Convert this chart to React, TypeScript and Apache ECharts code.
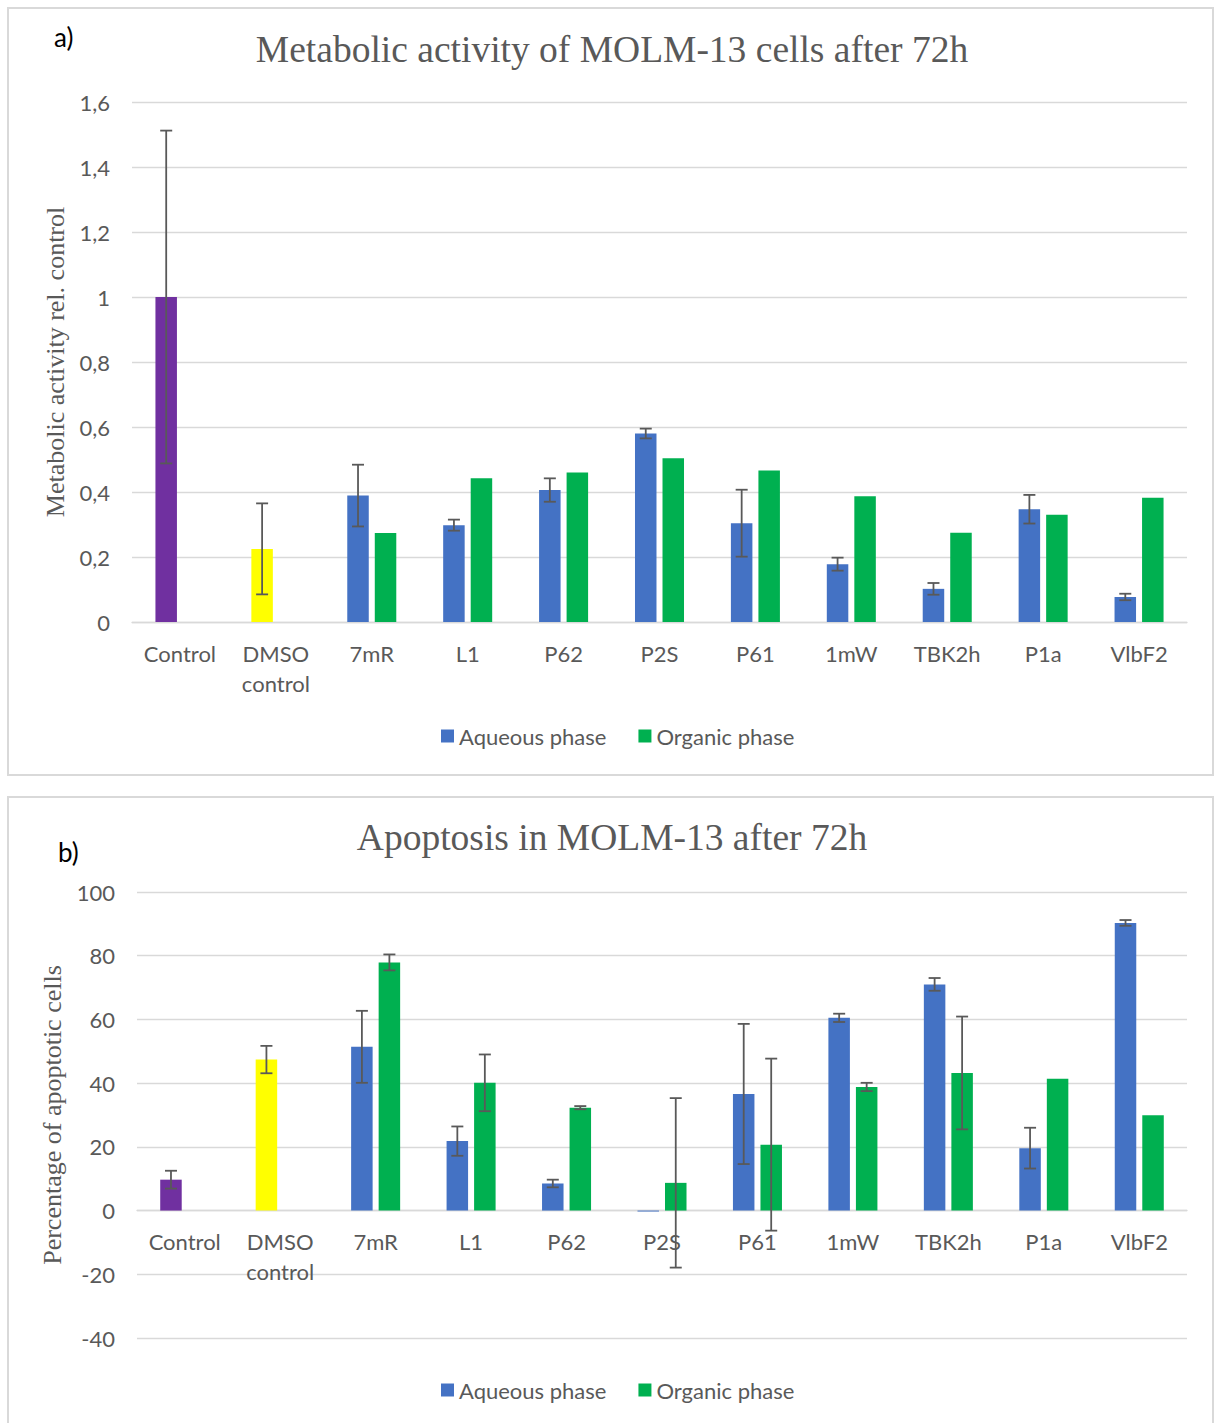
import React, { useEffect, useRef } from "react";
import * as echarts from "echarts";

// Treatment groups shared by both panels
const categories = ["Control", "DMSO\ncontrol", "7mR", "L1", "P62", "P2S", "P61", "1mW", "TBK2h", "P1a", "VlbF2"];

// Panel a: metabolic activity relative to control (first two entries are the control groups)
const metabAqueous = [1.0, 0.225, 0.389, 0.298, 0.406, 0.58, 0.304, 0.178, 0.102, 0.347, 0.077];
const metabAqueousErr = [0.512, 0.14, 0.095, 0.017, 0.036, 0.015, 0.103, 0.02, 0.018, 0.044, 0.01];
const metabOrganic = [null, null, 0.274, 0.442, 0.46, 0.504, 0.466, 0.387, 0.275, 0.33, 0.382];
const metabOrganicErr = [null, null, null, null, null, null, null, null, null, null, null];

// Panel b: percentage of apoptotic cells
const apopAqueous = [9.7, 47.4, 51.4, 21.8, 8.5, -0.3, 36.6, 60.5, 71.0, 19.6, 90.3];
const apopAqueousErr = [2.8, 4.3, 11.3, 4.6, 1.2, null, 22.0, 1.3, 2.0, 6.4, 0.9];
const apopOrganic = [null, null, 77.9, 40.1, 32.3, 8.7, 20.7, 38.8, 43.2, 41.4, 29.9];
const apopOrganicErr = [null, null, 2.5, 8.9, 0.5, 26.6, 27.0, 1.3, 17.7, null, null];

const seriesNames = ["Aqueous phase", "Organic phase"];
const controlColors = ["#7030A0", "#FFFF00"];

const BLUE = "#4472C4";
const GREEN = "#00B050";
const GRID_LINE = "#D9D9D9";
const TEXT = "#595959";
const SANS = "Lato";
const SERIF = "Liberation Serif";
const BAR_W = 21.5;
const BAR_GAP = 6;
const SLOT = (BAR_W + BAR_GAP) / 2;

const toBarData = (vals: (number | null)[], lead: boolean) =>
  vals.map((v, i) => {
    if (v === null) return "-";
    if (lead && i < controlColors.length) return { value: v, itemStyle: { color: controlColors[i] } };
    return v;
  });

const toErrData = (vals: (number | null)[], errs: (number | null)[]) =>
  vals
    .map((v, i) => (v === null || errs[i] === null ? null : [i, v, errs[i]]))
    .filter((d) => d !== null);

const errorRenderer = (offset: number) => (params: any, api: any) => {
  const cat = api.value(0);
  const v = api.value(1);
  const e = api.value(2);
  const hi = api.coord([cat, v + e]);
  const lo = api.coord([cat, v - e]);
  const x = hi[0] + offset;
  const cap = 6;
  const style = { stroke: TEXT, lineWidth: 1.8 };
  return {
    type: "group",
    children: [
      { type: "line", shape: { x1: x, y1: hi[1], x2: x, y2: lo[1] }, style },
      { type: "line", shape: { x1: x - cap, y1: hi[1], x2: x + cap, y2: hi[1] }, style },
      { type: "line", shape: { x1: x - cap, y1: lo[1], x2: x + cap, y2: lo[1] }, style },
    ],
  };
};

const commaFormat = (v: number) => String(Math.round(v * 10) / 10).replace(".", ",");

// Panel b's value axis runs from -40 to 100; the category axis sits on its zero line
const APOP_MIN = -40;
const APOP_MAX = 100;
const APOP_GRID_H = 446;

export default function App() {
  const ref = useRef<HTMLDivElement>(null);

  useEffect(() => {
    if (!ref.current) return;
    const chart = echarts.init(ref.current, null, { renderer: "svg" });

    const xAxisBase = (gridIndex: number, offset: number) => ({
      type: "category",
      gridIndex,
      data: categories,
      position: "bottom",
      offset,
      axisTick: { show: false },
      axisLine: { show: true, onZero: false, lineStyle: { color: GRID_LINE, width: 1.3 } },
      axisLabel: {
        interval: 0,
        margin: 16,
        color: TEXT,
        fontFamily: SANS,
        fontSize: 22,
        lineHeight: 30,
      },
    });

    const yAxisBase = (gridIndex: number, name: string, nameGap: number) => ({
      type: "value",
      gridIndex,
      name,
      nameLocation: "middle",
      nameGap,
      nameTextStyle: { color: TEXT, fontFamily: SERIF, fontSize: 26 },
      axisLine: { show: false },
      axisTick: { show: false },
      splitLine: { lineStyle: { color: GRID_LINE, width: 1.3 } },
      axisLabel: { color: TEXT, fontFamily: SANS, fontSize: 22, margin: 22 },
    });

    const barSeries = (idx: number, name: string, data: any[], color: string) => ({
      type: "bar",
      name,
      xAxisIndex: idx,
      yAxisIndex: idx,
      data,
      barWidth: BAR_W,
      barGap: `${Math.round((BAR_GAP / BAR_W) * 100)}%`,
      itemStyle: { color },
      z: 2,
    });

    const errSeries = (idx: number, name: string, data: any[], offset: number) => ({
      type: "custom",
      name,
      xAxisIndex: idx,
      yAxisIndex: idx,
      data,
      renderItem: errorRenderer(offset),
      z: 5,
      silent: true,
    });

    const legendBase = (top: number) => ({
      data: seriesNames,
      left: 436,
      top,
      icon: "rect",
      itemWidth: 13,
      itemHeight: 13,
      itemGap: 32,
      textStyle: { color: TEXT, fontFamily: SANS, fontSize: 22 },
    });

    // distance from the bottom of grid b up to its zero line
    const zeroLift = (-APOP_MIN / (APOP_MAX - APOP_MIN)) * APOP_GRID_H;

    chart.setOption({
      animation: false,
      backgroundColor: "#FFFFFF",
      grid: [
        { left: 132, top: 102, width: 1055, height: 520, containLabel: false },
        { left: 137, top: 892, width: 1050, height: APOP_GRID_H, containLabel: false },
      ],
      xAxis: [xAxisBase(0, 0), xAxisBase(1, -zeroLift)],
      yAxis: [
        {
          ...yAxisBase(0, "Metabolic activity rel. control", 62),
          min: 0,
          max: 1.6,
          interval: 0.2,
          axisLabel: { ...yAxisBase(0, "", 0).axisLabel, formatter: commaFormat },
        },
        { ...yAxisBase(1, "Percentage of apoptotic cells", 67), min: APOP_MIN, max: APOP_MAX, interval: 20 },
      ],
      legend: [legendBase(720), legendBase(1374)],
      series: [
        barSeries(0, seriesNames[0], toBarData(metabAqueous, true), BLUE),
        barSeries(0, seriesNames[1], toBarData(metabOrganic, false), GREEN),
        errSeries(0, "metab-aq-err", toErrData(metabAqueous, metabAqueousErr), -SLOT),
        errSeries(0, "metab-org-err", toErrData(metabOrganic, metabOrganicErr), SLOT),
        barSeries(1, seriesNames[0], toBarData(apopAqueous, true), BLUE),
        barSeries(1, seriesNames[1], toBarData(apopOrganic, false), GREEN),
        errSeries(1, "apop-aq-err", toErrData(apopAqueous, apopAqueousErr), -SLOT),
        errSeries(1, "apop-org-err", toErrData(apopOrganic, apopOrganicErr), SLOT),
      ],
      graphic: [
        {
          type: "rect",
          z: -10,
          shape: { x: 8, y: 8, width: 1205, height: 767 },
          style: { fill: "none", stroke: GRID_LINE, lineWidth: 2 },
        },
        {
          type: "rect",
          z: -10,
          shape: { x: 8, y: 797, width: 1205, height: 640 },
          style: { fill: "none", stroke: GRID_LINE, lineWidth: 2 },
        },
        {
          type: "text",
          x: 612,
          y: 49,
          style: {
            text: "Metabolic activity of MOLM-13 cells after 72h",
            fill: TEXT,
            font: `37.5px "${SERIF}"`,
            textAlign: "center",
            textVerticalAlign: "middle",
          },
        },
        {
          type: "text",
          x: 612,
          y: 837,
          style: {
            text: "Apoptosis in MOLM-13 after 72h",
            fill: TEXT,
            font: `37.5px "${SERIF}"`,
            textAlign: "center",
            textVerticalAlign: "middle",
          },
        },
        {
          type: "text",
          x: 54,
          y: 37,
          style: { text: "a)", fill: "#000000", font: `26px "${SANS}"`, textAlign: "left", textVerticalAlign: "middle" },
        },
        {
          type: "text",
          x: 58,
          y: 852,
          style: { text: "b)", fill: "#000000", font: `26px "${SANS}"`, textAlign: "left", textVerticalAlign: "middle" },
        },
      ],
    });

    return () => chart.dispose();
  }, []);

  return (
    <div
      ref={ref}
      style={{ position: "absolute", left: 0, top: 0, width: 1214, height: 1423, background: "#FFFFFF" }}
    />
  );
}
